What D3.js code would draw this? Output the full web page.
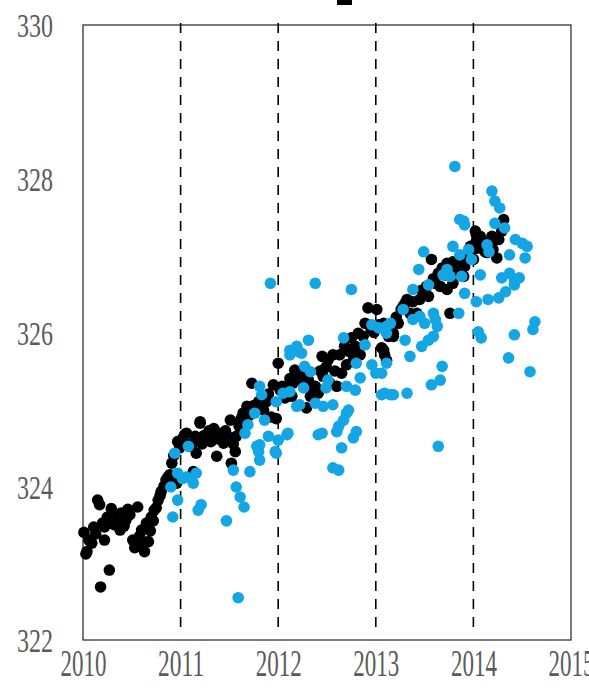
<!DOCTYPE html>
<html>
<head>
<meta charset="utf-8">
<script src="https://cdn.jsdelivr.net/npm/d3@7"></script>
<style>
  html, body { margin: 0; padding: 0; background: #fff; }
  svg { display: block; }
</style>
</head>
<body>
<svg id="chart" width="589" height="691"></svg>
<script>
// Tick labels
const xTicks = [2010, 2011, 2012, 2013, 2014, 2015];
const yTicks = [322, 324, 326, 328, 330];
const dashedYears = [2011, 2012, 2013, 2014];

// Black series: [decimal year, value]
const blackYears = [
  2010.01,2010.03,2010.04,2010.06,2010.09,2010.11,2010.13,2010.15,2010.17,2010.18,
  2010.20,2010.22,2010.22,2010.25,2010.27,2010.29,2010.29,2010.32,2010.34,2010.36,
  2010.38,2010.39,2010.42,2010.44,2010.46,2010.48,2010.51,2010.53,2010.55,2010.56,
  2010.58,2010.60,2010.62,2010.63,2010.65,2010.67,2010.69,2010.70,2010.72,2010.73,
  2010.75,2010.77,2010.79,2010.80,2010.83,2010.85,2010.87,2010.89,2010.91,2010.93,
  2010.96,2010.97,2010.99,2011.02,2011.04,2011.06,2011.08,2011.11,2011.13,2011.13,
  2011.15,2011.16,2011.18,2011.20,2011.20,2011.22,2011.24,2011.27,2011.29,2011.31,
  2011.34,2011.36,2011.37,2011.40,2011.42,2011.44,2011.46,2011.48,2011.51,2011.52,
  2011.54,2011.56,2011.57,2011.60,2011.62,2011.64,2011.66,2011.68,2011.70,2011.73,
  2011.75,2011.77,2011.80,2011.83,2011.85,2011.88,2011.90,2011.93,2011.95,2011.98,
  2012.00,2012.02,2012.04,2012.07,2012.10,2012.12,2012.14,2012.15,2012.17,2012.20,
  2012.24,2012.26,2012.29,2012.31,2012.33,2012.36,2012.38,2012.41,2012.43,2012.45,
  2012.46,2012.49,2012.51,2012.53,2012.56,2012.58,2012.60,2012.63,2012.65,2012.68,
  2012.70,2012.73,2012.75,2012.77,2012.79,2012.82,2012.84,2012.87,2012.89,2012.92,
  2012.95,2012.98,2013.01,2013.03,2013.06,2013.08,2013.08,2013.09,2013.11,2013.13,
  2013.15,2013.18,2013.18,2013.21,2013.23,2013.26,2013.28,2013.30,2013.32,2013.35,
  2013.38,2013.42,2013.45,2013.47,2013.49,2013.52,2013.54,2013.57,2013.59,2013.61,
  2013.64,2013.66,2013.68,2013.71,2013.73,2013.73,2013.76,2013.78,2013.79,2013.79,
  2013.82,2013.85,2013.86,2013.88,2013.90,2013.91,2013.93,2013.95,2013.97,2014.00,
  2014.00,2014.02,2014.03,2014.03,2014.05,2014.07,2014.07,2014.10,2014.12,2014.14,
  2014.17,2014.19,2014.20,2014.22,2014.24,2014.26,2014.29,2014.31
];
const blackValues = [
  323.40,323.12,323.15,323.30,323.26,323.47,323.38,323.82,323.76,322.69,
  323.52,323.30,323.47,323.60,322.91,323.71,323.56,323.50,323.56,323.62,
  323.43,323.65,323.48,323.56,323.70,323.63,323.30,323.20,323.26,323.73,
  323.35,323.43,323.25,323.15,323.52,323.28,323.42,323.60,323.55,323.69,
  323.72,323.82,323.88,323.93,324.00,324.08,324.12,324.15,324.30,324.40,
  324.04,324.58,324.50,324.62,324.67,324.69,324.55,324.52,324.56,324.19,
  324.65,324.43,324.60,324.82,324.84,324.55,324.66,324.60,324.72,324.58,
  324.75,324.62,324.39,324.69,324.60,324.56,324.72,324.65,324.86,324.30,
  324.55,324.45,324.65,324.78,324.88,324.95,324.85,325.04,324.92,325.34,
  325.05,325.00,325.10,325.15,324.99,325.10,325.20,324.90,325.32,324.88,
  325.60,325.25,325.30,325.15,325.30,325.40,325.17,325.34,325.51,325.45,
  325.43,325.35,325.02,325.38,325.17,325.25,325.30,325.21,325.50,325.69,
  325.43,325.55,325.64,325.34,325.71,325.50,325.30,325.71,325.47,325.82,
  325.58,325.75,325.93,325.64,325.82,325.99,325.71,325.95,326.12,326.32,
  326.05,326.00,326.30,326.10,325.80,326.12,325.77,325.71,325.64,325.95,
  326.08,325.99,325.95,326.20,326.12,326.30,326.34,326.38,326.43,326.25,
  326.40,326.25,326.43,326.55,326.51,326.60,326.47,326.95,326.70,326.64,
  326.77,326.60,326.84,326.75,326.90,326.56,326.25,326.80,326.92,326.64,
  326.85,326.90,326.77,326.95,326.73,326.86,327.01,326.99,327.12,327.08,
  326.95,327.32,327.27,327.19,327.10,327.21,327.25,327.15,327.05,327.04,
  327.18,327.25,327.08,327.20,326.97,327.21,327.32,327.47
];

// Blue series: [decimal year, value]
const blueYears = [
  2010.90,2010.92,2010.94,2010.97,2010.97,2011.02,2011.06,2011.08,2011.13,2011.16,
  2011.18,2011.21,2011.47,2011.54,2011.57,2011.59,2011.61,2011.65,2011.66,2011.69,
  2011.71,2011.76,2011.78,2011.80,2011.81,2011.81,2011.81,2011.83,2011.86,2011.90,
  2011.92,2011.97,2011.98,2011.98,2012.00,2012.05,2012.09,2012.10,2012.12,2012.12,
  2012.12,2012.19,2012.19,2012.21,2012.22,2012.24,2012.26,2012.27,2012.31,2012.33,
  2012.38,2012.38,2012.41,2012.45,2012.46,2012.49,2012.51,2012.56,2012.56,2012.60,
  2012.62,2012.62,2012.65,2012.67,2012.67,2012.70,2012.70,2012.72,2012.75,2012.77,
  2012.79,2012.80,2012.80,2012.84,2012.89,2012.96,2012.96,2013.00,2013.03,2013.06,
  2013.06,2013.09,2013.11,2013.11,2013.11,2013.15,2013.15,2013.18,2013.28,2013.30,
  2013.32,2013.35,2013.38,2013.38,2013.44,2013.45,2013.47,2013.49,2013.50,2013.54,
  2013.54,2013.57,2013.59,2013.59,2013.61,2013.63,2013.64,2013.66,2013.68,2013.69,
  2013.73,2013.76,2013.79,2013.81,2013.85,2013.86,2013.86,2013.88,2013.90,2013.91,
  2013.91,2013.95,2013.98,2014.03,2014.05,2014.07,2014.08,2014.14,2014.15,2014.16,
  2014.19,2014.22,2014.22,2014.26,2014.27,2014.29,2014.32,2014.33,2014.36,2014.37,
  2014.37,2014.42,2014.42,2014.42,2014.43,2014.47,2014.50,2014.53,2014.55,2014.58,
  2014.61,2014.63
];
const blueValues = [
  323.99,323.60,324.43,324.17,323.82,324.10,324.12,324.52,324.04,324.17,
  323.69,323.76,323.55,324.21,323.99,322.55,323.86,323.73,324.69,324.80,
  324.19,324.95,324.52,324.45,325.30,324.54,324.34,325.19,324.86,324.65,
  326.64,324.45,325.10,324.43,324.60,325.21,324.67,324.69,325.23,325.71,
  325.77,325.82,325.04,325.75,325.06,325.73,325.28,325.56,325.90,325.49,
  326.64,325.08,324.67,324.69,325.04,325.28,325.38,325.06,324.24,324.71,
  324.78,324.21,324.50,324.86,325.93,324.95,325.30,324.99,326.56,324.63,
  325.25,325.60,324.71,325.41,325.84,326.10,325.58,325.47,326.06,325.47,
  325.19,325.21,326.08,325.99,325.60,326.12,325.19,325.19,326.30,325.90,
  325.21,325.69,326.56,326.17,326.82,326.21,325.82,327.05,326.12,326.62,
  325.90,325.32,326.25,325.95,326.17,326.08,324.52,325.38,325.56,326.75,
  326.82,326.73,327.12,328.16,326.25,327.47,327.01,326.73,327.45,327.40,
  326.51,327.08,326.95,326.40,326.01,326.75,325.93,327.14,326.43,327.05,
  327.84,327.71,327.42,326.45,327.62,326.71,327.36,326.53,325.67,327.01,
  326.77,326.69,326.62,325.97,327.21,326.71,327.16,326.97,327.12,325.49,
  326.04,326.14
];

const blackPoints = blackYears.map((yr, i) => ({ x: yr, y: blackValues[i] }));
const bluePoints = blueYears.map((yr, i) => ({ x: yr, y: blueValues[i] }));

const svg = d3.select("#chart");
const plot = { left: 83, right: 571, top: 25, bottom: 640 };

const x = d3.scaleLinear().domain([2010, 2015]).range([plot.left, plot.right]);
const y = d3.scaleLinear().domain([322, 330]).range([plot.bottom, plot.top]);

// Remnant of the heading above the frame
svg.append("rect")
  .attr("x", 337).attr("y", 0).attr("width", 15).attr("height", 5)
  .attr("fill", "#000");

// Plot frame
svg.append("rect")
  .attr("x", plot.left).attr("y", plot.top)
  .attr("width", plot.right - plot.left).attr("height", plot.bottom - plot.top)
  .attr("fill", "none").attr("stroke", "#333").attr("stroke-width", 1.3);

// Year separators
svg.append("g").selectAll("line")
  .data(dashedYears)
  .join("line")
  .attr("x1", d => x(d)).attr("x2", d => x(d))
  .attr("y1", plot.top - 2).attr("y2", plot.bottom - 6)
  .attr("stroke", "#000").attr("stroke-width", 1.6)
  .attr("stroke-dasharray", "10,8");

// Points
const r = 5.8;
svg.append("g").selectAll("circle")
  .data(blackPoints)
  .join("circle")
  .attr("cx", d => x(d.x)).attr("cy", d => y(d.y)).attr("r", r)
  .attr("fill", "#000");

svg.append("g").selectAll("circle")
  .data(bluePoints)
  .join("circle")
  .attr("cx", d => x(d.x)).attr("cy", d => y(d.y)).attr("r", r)
  .attr("fill", "#14a6e4");

// Axis labels (no tick marks, only text)
const labelFont = "'Liberation Serif', 'DejaVu Serif', serif";

const xAxis = d3.axisBottom(x).tickValues(xTicks).tickFormat(d3.format("d")).tickSize(0);
const gx = svg.append("g").attr("transform", `translate(0,${plot.bottom})`).call(xAxis);
gx.select(".domain").remove();
gx.selectAll("text")
  .attr("y", 36)
  .attr("dy", 0)
  .attr("font-family", labelFont)
  .attr("font-size", 37)
  .attr("fill", "#5a5a5a")
  .attr("textLength", 46)
  .attr("lengthAdjust", "spacingAndGlyphs");

const yAxis = d3.axisLeft(y).tickValues(yTicks).tickFormat(d3.format("d")).tickSize(0);
const gy = svg.append("g").attr("transform", `translate(${plot.left},0)`).call(yAxis);
gy.select(".domain").remove();
gy.selectAll("text")
  .attr("x", -48)
  .attr("dy", "0.35em")
  .attr("text-anchor", "middle")
  .attr("font-family", labelFont)
  .attr("font-size", 34)
  .attr("fill", "#5a5a5a")
  .attr("textLength", 36)
  .attr("lengthAdjust", "spacingAndGlyphs");
</script>
</body>
</html>
